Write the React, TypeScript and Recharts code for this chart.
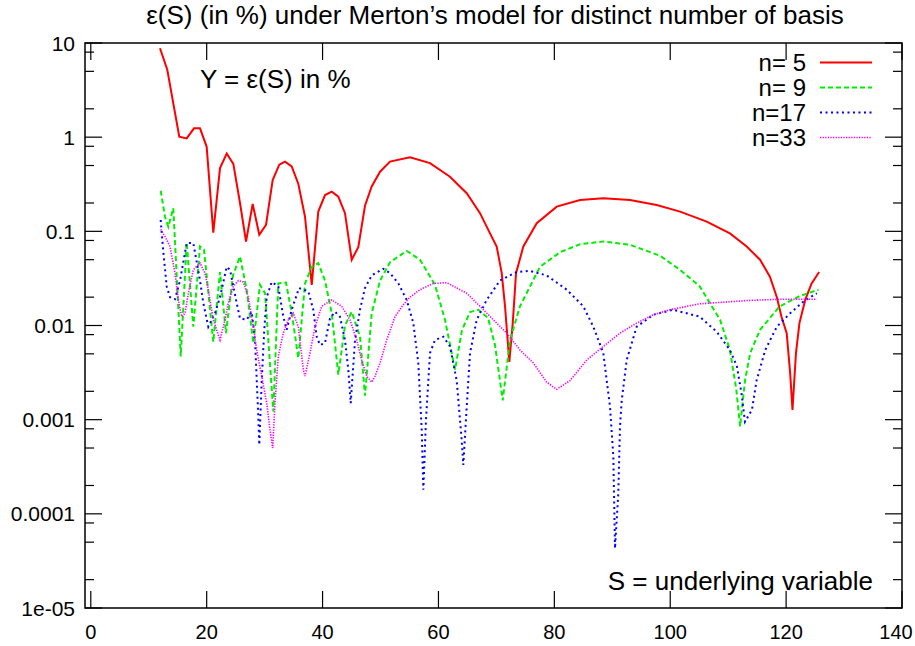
import { LineChart, Line, XAxis, YAxis, ReferenceArea } from "recharts"

document.body.style.margin = "0"

const FONT = '"Liberation Sans", Arial, Helvetica, sans-serif'

// plot frame in page pixels (gnuplot style border, ticks drawn inward)
const PLOT = { left: 85, right: 902, top: 43, bottom: 608 }
const MAJOR = 17
const MINOR = 9

const xTicks = [0, 20, 40, 60, 80, 100, 120, 140]
const yDecades = [1e-5, 1e-4, 1e-3, 1e-2, 1e-1, 1, 10]
const yLabels = ["1e-05", "0.0001", "0.001", "0.01", "0.1", "1", "10"]
const yMinor = [2, 5, 8]

// [S, error in %]
const n5: [number, number][] = [
  [11.94, 8.8], [13.2, 5.2], [15.27, 1.01], [16.55, 0.97], [17.81, 1.24], [18.85, 1.24],
  [20.0, 0.79], [21.14, 0.097], [22.3, 0.47], [23.46, 0.67], [24.6, 0.52], [25.75, 0.2],
  [26.79, 0.078], [27.94, 0.195], [29.08, 0.092], [30.24, 0.117], [31.39, 0.35], [32.53, 0.51],
  [33.52, 0.55], [34.67, 0.49], [35.81, 0.32], [36.97, 0.143], [38.13, 0.027], [39.26, 0.162],
  [40.42, 0.243], [41.58, 0.264], [42.72, 0.233], [43.87, 0.156], [45.03, 0.05], [46.17, 0.068],
  [47.32, 0.187], [48.48, 0.3], [49.92, 0.43], [51.64, 0.55], [55.09, 0.61], [58.54, 0.53],
  [61.99, 0.38], [64.88, 0.254], [67.17, 0.156], [68.9, 0.095], [70.05, 0.069], [70.92, 0.036],
  [71.49, 0.016], [72.23, 0.0041], [72.82, 0.0106], [73.39, 0.036], [74.65, 0.069], [76.96, 0.122],
  [80.41, 0.183], [84.43, 0.215], [88.45, 0.224], [93.06, 0.215], [97.67, 0.19], [101.7, 0.162],
  [106.3, 0.127], [110.3, 0.095], [113.2, 0.069], [115.5, 0.05], [117.2, 0.033], [118.4, 0.02],
  [119.2, 0.0124], [120.1, 0.0083], [120.7, 0.0031], [121.1, 0.00127], [121.7, 0.0051],
  [122.3, 0.0106], [123.3, 0.0187], [124.4, 0.028], [125.7, 0.037],
]

const n9: [number, number][] = [
  [12.06, 0.27], [12.81, 0.143], [13.38, 0.112], [14.24, 0.176], [15.52, 0.0047], [16.55, 0.076],
  [17.69, 0.0097], [18.85, 0.069], [19.54, 0.064], [21.14, 0.0067], [22.3, 0.037], [23.33, 0.0083],
  [24.54, 0.034], [25.75, 0.054], [26.9, 0.024], [28.05, 0.0065], [29.2, 0.027], [30.07, 0.022],
  [31.5, 0.00122], [32.36, 0.028], [33.69, 0.0285], [34.73, 0.013], [35.81, 0.0045], [36.97, 0.028],
  [38.13, 0.042], [39.26, 0.046], [40.42, 0.03], [41.58, 0.0135], [42.72, 0.003], [43.87, 0.01],
  [45.03, 0.014], [46.46, 0.0076], [47.32, 0.0018], [48.48, 0.0135], [49.92, 0.03], [51.64, 0.047],
  [54.52, 0.062], [56.82, 0.05], [59.4, 0.027], [61.13, 0.0115], [62.86, 0.0034], [64.07, 0.009],
  [65.45, 0.0139], [66.88, 0.0147], [68.56, 0.012], [69.76, 0.0062], [71.09, 0.0016], [72.35, 0.007],
  [74.07, 0.016], [77.52, 0.042], [80.97, 0.06], [84.43, 0.073], [88.45, 0.078], [93.06, 0.072],
  [98.24, 0.055], [101.7, 0.039], [105.1, 0.026], [108.6, 0.0115], [110.3, 0.0055], [111.4, 0.0021],
  [112.06, 0.00085], [112.9, 0.0026], [113.8, 0.0051], [115.5, 0.009], [118.9, 0.016],
  [122.4, 0.0206], [125.6, 0.024],
]

const n17: [number, number][] = [
  [12.06, 0.132], [12.51, 0.061], [13.1, 0.026], [13.67, 0.02], [14.53, 0.019], [15.4, 0.03],
  [16.55, 0.075], [17.69, 0.075], [18.85, 0.03], [19.42, 0.0173], [20.28, 0.0097], [21.44, 0.0135],
  [22.3, 0.02], [23.46, 0.042], [24.03, 0.039], [25.18, 0.0173], [25.75, 0.0119], [26.91, 0.0115],
  [27.77, 0.014], [28.34, 0.007], [28.91, 0.00108], [29.08, 0.00054], [29.5, 0.0026], [29.94, 0.009],
  [30.36, 0.02], [31.22, 0.029], [32.36, 0.026], [33.22, 0.0124], [33.81, 0.009], [34.67, 0.0147],
  [35.93, 0.025], [37.54, 0.023], [38.4, 0.0147], [38.99, 0.0076], [39.56, 0.0062], [40.42, 0.0065],
  [41.28, 0.0119], [42.15, 0.014], [43.01, 0.0124], [43.87, 0.007], [44.44, 0.0034], [44.86, 0.0015],
  [45.6, 0.007], [46.46, 0.0147], [47.32, 0.025], [48.48, 0.034], [50.48, 0.04], [51.64, 0.036],
  [53.07, 0.028], [54.52, 0.0187], [55.66, 0.0106], [56.52, 0.004], [57.11, 0.00078], [57.39, 0.00018],
  [57.85, 0.001], [58.54, 0.0051], [59.4, 0.007], [60.84, 0.0076], [61.99, 0.006], [63.15, 0.0026],
  [64.01, 0.00061], [64.29, 0.00033], [64.88, 0.00138], [65.45, 0.0051], [66.6, 0.0115], [68.33, 0.0187],
  [70.61, 0.03], [73.5, 0.037], [75.8, 0.038], [78.68, 0.034], [82.14, 0.024], [85.0, 0.016],
  [86.73, 0.0097], [88.45, 0.0051], [89.6, 0.00138], [90.18, 0.00041], [90.47, 0.000043],
  [91.04, 0.000166], [91.33, 0.00085], [91.63, 0.0016], [92.49, 0.0043], [94.2, 0.0097], [97.08, 0.013],
  [100.5, 0.0147], [105.1, 0.0124], [108.0, 0.0086], [110.3, 0.0055], [111.5, 0.0037], [112.3, 0.0019],
  [112.9, 0.00095], [114.1, 0.00127], [114.9, 0.0026], [116.4, 0.0055], [118.4, 0.0097],
  [120.7, 0.0135], [123.0, 0.018], [125.3, 0.022],
]

const n33: [number, number][] = [
  [12.06, 0.105], [12.81, 0.088], [13.67, 0.069], [14.53, 0.036], [15.1, 0.0187], [15.69, 0.0124],
  [16.26, 0.0135], [16.83, 0.022], [17.69, 0.039], [18.85, 0.046], [19.71, 0.036], [20.28, 0.024],
  [21.14, 0.0115], [22.3, 0.007], [23.16, 0.0115], [23.73, 0.0173], [24.59, 0.026], [25.46, 0.03],
  [26.32, 0.029], [27.18, 0.02], [28.05, 0.0097], [28.63, 0.0055], [29.5, 0.0029], [30.36, 0.0015],
  [30.93, 0.00078], [31.39, 0.0005], [31.79, 0.0015], [32.36, 0.0047], [33.22, 0.0083], [34.09, 0.0115],
  [34.95, 0.0135], [35.81, 0.0097], [36.68, 0.0034], [36.97, 0.0029], [37.83, 0.0051], [38.7, 0.0097],
  [39.85, 0.016], [41.58, 0.0187], [43.3, 0.016], [44.74, 0.0115], [45.89, 0.007], [46.76, 0.0043],
  [47.62, 0.0029], [48.48, 0.0025], [49.05, 0.0029], [49.92, 0.004], [51.07, 0.007], [52.5, 0.0124],
  [53.93, 0.0166], [55.09, 0.02], [56.82, 0.024], [59.11, 0.028], [61.42, 0.0285], [64.88, 0.022],
  [67.17, 0.016], [69.47, 0.0115], [71.78, 0.0083], [74.07, 0.0055], [76.37, 0.004], [78.68, 0.0025],
  [80.41, 0.0021], [82.71, 0.0026], [85.59, 0.0043], [88.45, 0.006], [91.33, 0.0083], [94.2, 0.0106],
  [97.08, 0.013], [99.97, 0.0147], [105.1, 0.017], [113.2, 0.0184], [118.9, 0.019], [125.3, 0.019],
]

const series = [
  { key: "n5", name: "n= 5", data: n5, color: "#ff0000", dash: undefined, width: 2 },
  { key: "n9", name: "n= 9", data: n9, color: "#00ee00", dash: "5 3", width: 2 },
  { key: "n17", name: "n=17", data: n17, color: "#0000ff", dash: "2 3.5", width: 2 },
  { key: "n33", name: "n=33", data: n33, color: "#ff00ff", dash: "1.3 1.3", width: 1.6 },
]

const yTicks: number[] = []
yDecades.forEach((d, i) => {
  yTicks.push(d)
  if (i < yDecades.length - 1) yMinor.forEach((m) => yTicks.push(d * m))
})

const XTick = (props: any) => {
  const { x, payload } = props
  // keep the last label inside the page
  const tx = Math.min(x, 896)
  return (
    <g>
      <line x1={x} x2={x} y1={PLOT.bottom} y2={PLOT.bottom - MAJOR} stroke="#000" strokeWidth={1.2} />
      <line x1={x} x2={x} y1={PLOT.top} y2={PLOT.top + MAJOR} stroke="#000" strokeWidth={1.2} />
      <text x={tx} y={PLOT.bottom + 24} textAnchor="middle" dominantBaseline="central" fontFamily={FONT} fontSize={20} fill="#000">
        {payload.value}
      </text>
    </g>
  )
}

const YTick = (props: any) => {
  const { y, payload } = props
  const v = payload.value
  const idx = yDecades.findIndex((d) => Math.abs(d - v) / d < 1e-6)
  const len = idx >= 0 ? MAJOR : MINOR
  return (
    <g>
      <line x1={PLOT.left} x2={PLOT.left + len} y1={y} y2={y} stroke="#000" strokeWidth={1.2} />
      <line x1={PLOT.right} x2={PLOT.right - len} y1={y} y2={y} stroke="#000" strokeWidth={1.2} />
      {idx >= 0 && (
        <text x={PLOT.left - 10} y={y} textAnchor="end" dominantBaseline="central" fontFamily={FONT} fontSize={21} fill="#000">
          {yLabels[idx]}
        </text>
      )}
    </g>
  )
}

const KeyBox = () => (
  <div style={{ position: "absolute", left: 690, top: 50, fontFamily: FONT, fontSize: 24, lineHeight: "25px" }}>
    {series.map((s) => (
      <div key={s.key} style={{ display: "flex", alignItems: "center", height: 25 }}>
        <span style={{ width: 116, textAlign: "right", whiteSpace: "pre" }}>{s.name}</span>
        <svg width={67} height={25} style={{ display: "block" }}>
          <line x1={14} x2={66} y1={12.5} y2={12.5} stroke={s.color} strokeWidth={s.width} strokeDasharray={s.dash} />
        </svg>
      </div>
    ))}
  </div>
)

export default function App() {
  return (
    <div style={{ position: "relative", width: 915, height: 646, background: "#fff", overflow: "hidden" }}>
      <LineChart
        width={915}
        height={646}
        margin={{ top: PLOT.top, right: 915 - PLOT.right, bottom: 0, left: 0 }}
      >
        <XAxis
          dataKey="s"
          type="number"
          domain={[-1, 140]}
          ticks={xTicks}
          allowDataOverflow
          axisLine={false}
          tickLine={false}
          tick={<XTick />}
          height={646 - PLOT.bottom}
        />
        <YAxis
          type="number"
          scale="log"
          domain={[1e-5, 10]}
          ticks={yTicks}
          allowDataOverflow
          axisLine={false}
          tickLine={false}
          tick={<YTick />}
          width={PLOT.left}
          interval={0}
        />
        {series.map((s) => (
          <Line
            key={s.key}
            data={s.data.map(([x, v]) => ({ s: x, v }))}
            dataKey="v"
            name={s.name}
            type="linear"
            stroke={s.color}
            strokeWidth={s.width}
            strokeDasharray={s.dash}
            dot={false}
            activeDot={false}
            isAnimationActive={false}
          />
        ))}
        <ReferenceArea x1={-1} x2={140} y1={1e-5} y2={10} fill="none" stroke="#000" strokeWidth={1.5} />
      </LineChart>
      <KeyBox />
      <div style={{ position: "absolute", left: 0, top: 0, width: 990, textAlign: "center", fontFamily: FONT, fontSize: 26 }}>
        ε(S) (in %) under Merton’s model for distinct number of basis
      </div>
      <div style={{ position: "absolute", left: 200, top: 64, fontFamily: FONT, fontSize: 26 }}>
        Y = ε(S) in %
      </div>
      <div style={{ position: "absolute", right: 915 - 873, top: 566, fontFamily: FONT, fontSize: 26 }}>
        S = underlying variable
      </div>
    </div>
  )
}
